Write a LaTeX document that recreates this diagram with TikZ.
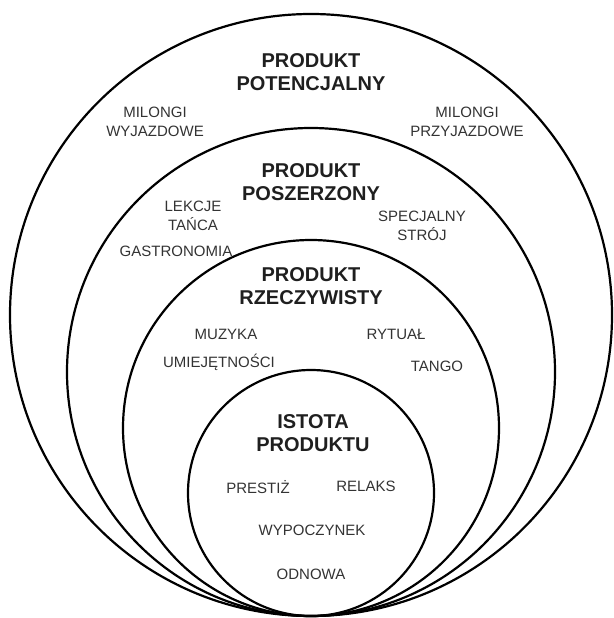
\documentclass[tikz,border=0pt]{standalone}
\usepackage{fontspec}
\setmainfont{Liberation Sans}
\begin{document}
\begin{tikzpicture}[x=1pt,y=-1pt,
  ring/.style={draw=black, line width=2.2pt, circle, inner sep=0pt},
  title/.style={font=\fontsize{20}{23}\selectfont\bfseries, text=black!88, align=center, inner sep=0pt},
  item/.style={font=\fontsize{15}{18.5}\selectfont, text=black!80, align=center, inner sep=0pt}]
\useasboundingbox (0,0) rectangle (613,618);
\node[ring, minimum size=602pt] (c1) at (311,315) {};
\node[ring, minimum size=488pt] (c2) at (311,372) {};
\node[ring, minimum size=376pt] (c3) at (311,428) {};
\node[ring, minimum size=246pt] (c4) at (311,493) {};
\node[title] (t1) at (311,72) {PRODUKT\\POTENCJALNY};
\node[item] (mw) at (155,122) {MILONGI\\WYJAZDOWE};
\node[item] (mp) at (467,122) {MILONGI\\PRZYJAZDOWE};
\node[title] (t2) at (311,182) {PRODUKT\\POSZERZONY};
\node[item] (lt) at (193,216) {LEKCJE\\TAŃCA};
\node[item] (ga) at (176,251) {GASTRONOMIA};
\node[item] (ss) at (422,226) {SPECJALNY\\STRÓJ};
\node[title] (t3) at (311,286) {PRODUKT\\RZECZYWISTY};
\node[item] (mu) at (226,334) {MUZYKA};
\node[item] (ry) at (396,334) {RYTUAŁ};
\node[item] (um) at (219,362) {UMIEJĘTNOŚCI};
\node[item] (ta) at (437,366) {TANGO};
\node[title] (t4) at (313,433) {ISTOTA\\PRODUKTU};
\node[item] (pr) at (258,487) {PRESTIŻ};
\node[item] (re) at (366,486) {RELAKS};
\node[item] (wy) at (312,530) {WYPOCZYNEK};
\node[item] (od) at (311,574) {ODNOWA};
\end{tikzpicture}
\end{document}
